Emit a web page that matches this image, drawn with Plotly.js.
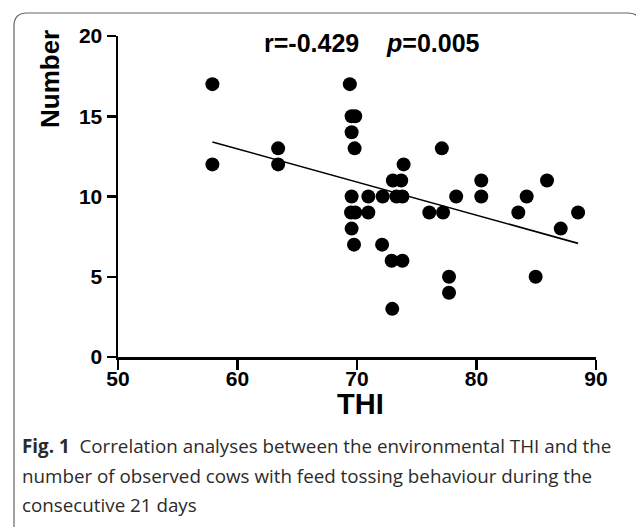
<!DOCTYPE html>
<html>
<head>
<meta charset="utf-8">
<script src="https://cdn.plot.ly/plotly-3.0.1.min.js"></script>
<style>html,body{margin:0;padding:0;background:#fff;}#chart{width:636px;height:527px;}</style>
</head>
<body>
<div id="chart"></div>
<script>
// Data
var thi = [57.9, 69.4,
  69.55, 69.85,
  69.55,
  63.4, 69.8, 77.1,
  57.9, 63.4, 73.9,
  73.0, 73.7, 80.4, 85.9,
  69.55, 70.95, 72.15, 73.3, 73.8, 78.3, 80.4, 84.2,
  69.5, 69.85, 70.95, 76.05, 77.2, 83.5, 88.5,
  69.55, 87.05,
  69.75, 72.1,
  72.9, 73.8,
  77.7, 84.95,
  77.7,
  72.95];
var number = [17, 17,
  15, 15,
  14,
  13, 13, 13,
  12, 12, 12,
  11, 11, 11, 11,
  10, 10, 10, 10, 10, 10, 10, 10,
  9, 9, 9, 9, 9, 9, 9,
  8, 8,
  7, 7,
  6, 6,
  5, 5,
  4,
  3];
var fitX = [57.9, 88.5];
var fitY = [13.4, 7.08];
var xTicks = [50, 60, 70, 80, 90];
var yTicks = [0, 5, 10, 15, 20];
var statText = '<b>r=-0.429    <i>p</i>=0.005</b>';
var captionLines = [
  '<b>Fig. 1</b>  Correlation analyses between the environmental THI and the',
  'number of observed cows with feed tossing behaviour during the',
  'consecutive 21 days'
];

// geometry helpers (pixel -> paper)
var L = 118, R = 596, T = 36, B = 357;
function px(x){ return (x - L) / (R - L); }
function py(y){ return (B - y) / (B - T); }

var bold = {family: 'Liberation Sans, Arial, sans-serif', color: '#000'};

var traces = [
  {x: fitX, y: fitY, type: 'scatter', mode: 'lines',
   line: {color: '#000', width: 1.6}, cliponaxis: false, showlegend: false},
  {x: thi, y: number, type: 'scatter', mode: 'markers',
   marker: {color: '#000', size: 14, line: {width: 0}}, cliponaxis: false, showlegend: false}
];

var annotations = [
  {text: statText, xref: 'paper', yref: 'paper', x: px(372), y: py(43),
   xanchor: 'center', yanchor: 'middle', showarrow: false,
   font: Object.assign({}, bold, {size: 25})},
  {text: '<b>Number</b>', xref: 'paper', yref: 'paper', x: px(50), y: py(79),
   xanchor: 'center', yanchor: 'middle', showarrow: false, textangle: -90,
   font: Object.assign({}, bold, {size: 26})},
  {text: '<b>THI</b>', xref: 'paper', yref: 'paper', x: px(360), y: py(404),
   xanchor: 'center', yanchor: 'middle', showarrow: false,
   font: Object.assign({}, bold, {size: 29})}
];
var capY = [446, 476, 505];
captionLines.forEach(function(t, i){
  annotations.push({text: t, xref: 'paper', yref: 'paper', x: px(20), y: py(capY[i]),
    xanchor: 'left', yanchor: 'middle', showarrow: false, align: 'left',
    font: {family: 'Open Sans, Noto Sans, sans-serif', size: 18.8, color: '#2b2b2b'}});
});

var framePath = 'M ' + px(14) + ',' + py(540) +
  ' L ' + px(14) + ',' + py(26) +
  ' Q ' + px(14) + ',' + py(13) + ' ' + px(27) + ',' + py(13) +
  ' L ' + px(628) + ',' + py(13) +
  ' Q ' + px(641) + ',' + py(13) + ' ' + px(641) + ',' + py(26) +
  ' L ' + px(641) + ',' + py(540);

var layout = {
  width: 636, height: 527,
  margin: {l: L, r: 636 - R, t: T, b: 527 - B, pad: 0},
  paper_bgcolor: '#fff', plot_bgcolor: '#fff',
  showlegend: false,
  xaxis: {range: [50, 90], tickvals: xTicks, ticktext: xTicks.map(function(v){return '<b>' + v + '</b>';}),
    showgrid: false, zeroline: false, showline: true, linecolor: '#000', linewidth: 2.5,
    ticks: 'outside', ticklen: 10, tickwidth: 2.5, tickcolor: '#000',
    ticklabelstandoff: -9,
    tickfont: Object.assign({}, bold, {size: 21})},
  yaxis: {range: [0, 20], tickvals: yTicks, ticktext: yTicks.map(function(v){return '<b>' + v + '</b>';}),
    showgrid: false, zeroline: false, showline: true, linecolor: '#000', linewidth: 2.5,
    ticks: 'outside', ticklen: 9, tickwidth: 2.5, tickcolor: '#000',
    tickfont: Object.assign({}, bold, {size: 21})},
  annotations: annotations,
  shapes: [{type: 'path', xref: 'paper', yref: 'paper', path: framePath,
    line: {color: '#666', width: 1.2}}]
};

Plotly.newPlot('chart', traces, layout, {staticPlot: true, displayModeBar: false});
</script>
</body>
</html>
